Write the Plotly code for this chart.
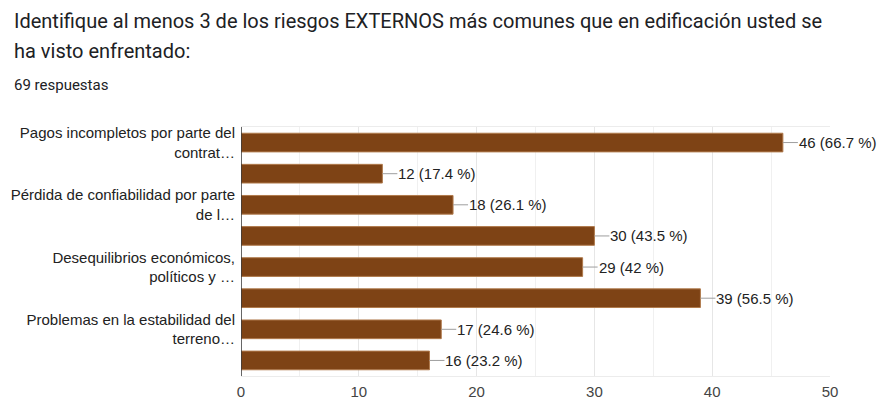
import plotly.graph_objects as go

# Survey answers (top to bottom); only alternate labels fit on the axis
labels = [
    "Pagos incompletos por parte del<br>contrat…",
    "",
    "Pérdida de confiabilidad por parte<br>de l…",
    "",
    "Desequilibrios económicos,<br>políticos y …",
    "",
    "Problemas en la estabilidad del<br>terreno…",
    "",
]
counts = [46, 12, 18, 30, 29, 39, 17, 16]
percents = ["66.7", "17.4", "26.1", "43.5", "42", "56.5", "24.6", "23.2"]
x_ticks = [0, 10, 20, 30, 40, 50]
total_responses = 69

W, H = 878, 400
L, R, T, B = 241, 48, 127, 24
pos = list(range(len(counts)))
FONT = "Arial, Liberation Sans"

fig = go.Figure()
fig.add_trace(go.Bar(
    x=counts, y=pos, orientation="h", width=0.6,
    marker=dict(color="#7e4315", line=dict(color="#b07a4c", width=1)),
    hoverinfo="skip",
))

for v, p, yy in zip(counts, percents, pos):
    fig.add_annotation(
        x=v, y=yy, xref="x", yref="y",
        text=f"{v} ({p} %)", showarrow=True, arrowhead=0, arrowwidth=1,
        arrowcolor="#9e9e9e", ax=15, ay=0, xanchor="left", yanchor="middle",
        borderpad=0, standoff=0,
        font=dict(family=FONT, size=15, color="#222222"),
    )

pw = W - L - R
ph = H - T - B
def px(x):
    return (x - L) / pw
def py(y):
    return 1 - (y - T) / ph

fig.add_annotation(
    x=px(12), y=py(21), xref="paper", yref="paper", xanchor="left", yanchor="middle",
    text="Identifique al menos 3 de los riesgos EXTERNOS más comunes que en edificación usted se",
    showarrow=False, font=dict(family="Roboto", size=20, color="#202124"),
)
fig.add_annotation(
    x=px(12), y=py(51), xref="paper", yref="paper", xanchor="left", yanchor="middle",
    text="ha visto enfrentado:",
    showarrow=False, font=dict(family="Roboto", size=20, color="#202124"),
)
fig.add_annotation(
    x=px(12), y=py(85), xref="paper", yref="paper", xanchor="left", yanchor="middle",
    text=f"{total_responses} respuestas",
    showarrow=False, font=dict(family="Roboto", size=15, color="#202124"),
)

fig.update_layout(
    width=W, height=H,
    margin=dict(l=L, r=R, t=T, b=B, pad=0, autoexpand=False),
    paper_bgcolor="white", plot_bgcolor="white",
    showlegend=False,
    xaxis=dict(
        range=[0, 50], tickvals=x_ticks, showgrid=True, gridcolor="#e6e6e6",
        minor=dict(dtick=5, showgrid=True, gridcolor="#f0f0f0"),
        zeroline=False, showline=True, linecolor="#ececec", mirror=True,
        tickfont=dict(family=FONT, size=15, color="#444444"),
        ticks="", ticklabelstandoff=2, automargin=False,
    ),
    yaxis=dict(
        range=[7.5, -0.5], tickvals=pos, ticktext=labels,
        showgrid=False, zeroline=False, ticks="",
        tickfont=dict(family=FONT, size=15, color="#222222"),
        ticklabelstandoff=5, automargin=False,
    ),
)
fig.add_shape(type="line", xref="x", yref="paper", x0=0, x1=0, y0=0, y1=1,
              line=dict(color="#333333", width=1.5))

fig.write_html("out.html")
